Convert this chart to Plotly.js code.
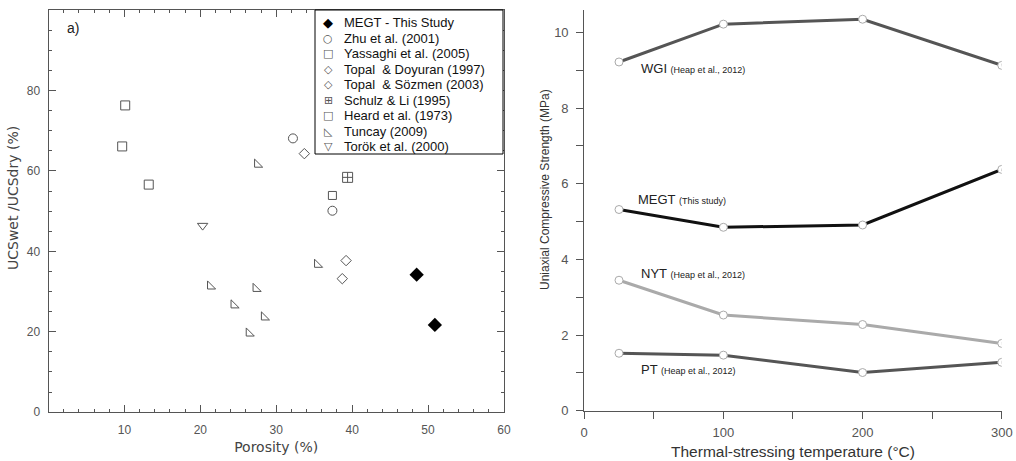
<!DOCTYPE html>
<html><head><meta charset="utf-8">
<script src="https://cdn.plot.ly/plotly-3.0.1.min.js"></script>
<style>html,body{margin:0;padding:0;background:#fff}#plot{width:1016px;height:461px}</style>
</head><body><div id="plot"></div>
<script>
// ---- Left panel data: porosity (%) vs UCSwet/UCSdry (%)
const megtX = [48.5, 50.9];
const megtY = [34.2, 21.7];
const zhuX = [32.2, 37.4];
const zhuY = [68.1, 50.1];
const yassaghiX = [9.7, 10.1, 13.2];
const yassaghiY = [66.1, 76.3, 56.6];
const topalDoyuranX = [33.7];
const topalDoyuranY = [64.3];
const topalSozmenX = [39.2, 38.7];
const topalSozmenY = [37.7, 33.2];
const schulzX = [39.4];
const schulzY = [58.4];
const heardX = [37.4];
const heardY = [53.9];
const tuncayX = [27.5, 21.3, 24.4, 27.3, 28.4, 26.4, 35.4];
const tuncayY = [61.6, 31.3, 26.6, 30.7, 23.6, 19.6, 36.7];
const torokX = [20.3];
const torokY = [46.4];

// legend labels and glyphs (left panel)
const legendLabels = ['MEGT - This Study', 'Zhu et al. (2001)', 'Yassaghi et al. (2005)', 'Topal  & Doyuran (1997)',
  'Topal  & Sözmen (2003)', 'Schulz & Li (1995)', 'Heard et al. (1973)', 'Tuncay (2009)', 'Torök et al. (2000)'];
const legendGlyphs = ['◆', '○', '□', '◇', '◇', '⊞', '□', '◺', '▽'];

// ---- Right panel data: temperature (°C) vs UCS (MPa)
const temps = [25, 100, 200, 300];
const wgi = [9.22, 10.22, 10.35, 9.13];
const megt = [5.32, 4.85, 4.91, 6.38];
const nyt = [3.45, 2.53, 2.28, 1.78];
const pt = [1.52, 1.47, 1.01, 1.28];

const F = '"Liberation Sans", Arial, sans-serif';
const FD = '"DejaVu Sans", sans-serif';
const gray = '#555';

function openPts(name, x, y, symbol, size) {
  return {type:'scatter', mode:'markers', name, x, y, xaxis:'x', yaxis:'y', showlegend:false,
    marker:{symbol, size, color:gray, line:{color:gray, width:1}}};
}

const traces = [
  {type:'scatter', mode:'markers', name:'MEGT - This Study', x:megtX, y:megtY, xaxis:'x', yaxis:'y', showlegend:false,
   marker:{symbol:'diamond', size:11, color:'#000'}},
  openPts('Zhu et al. (2001)', zhuX, zhuY, 'circle-open', 9),
  openPts('Yassaghi et al. (2005)', yassaghiX, yassaghiY, 'square-open', 9),
  openPts('Topal  & Doyuran (1997)', topalDoyuranX, topalDoyuranY, 'diamond-open', 8),
  openPts('Topal  & Sözmen (2003)', topalSozmenX, topalSozmenY, 'diamond-open', 8),
  openPts('Schulz & Li (1995)', schulzX, schulzY, 'square-cross-open', 10),
  openPts('Heard et al. (1973)', heardX, heardY, 'square-open', 8),
  openPts('Tuncay (2009)', tuncayX, tuncayY, 'triangle-sw-open', 9),
  openPts('Torök et al. (2000)', torokX, torokY, 'triangle-down-open', 9),
];

function line(name, y, color) {
  return {type:'scatter', mode:'lines+markers', name, x:temps, y, xaxis:'x2', yaxis:'y2', showlegend:false,
    line:{color, width:3}, marker:{symbol:'circle', size:8, color:'#fff', line:{color:'#aaa', width:1}}};
}
traces.push(line('WGI', wgi, '#555'));
traces.push(line('MEGT', megt, '#111'));
traces.push(line('NYT', nyt, '#aaa'));
traces.push(line('PT', pt, '#555'));

const tickfont = {family:F, size:12, color:'#555'};
const tickfont2 = {family:F, size:13, color:'#555'};

const W = 1016, H = 461;
const annotations = [
  {text:'a)', xref:'paper', yref:'paper', x:0.064, y:0.94, xanchor:'left', yanchor:'middle', showarrow:false,
   font:{family:F, size:14, color:'#222'}},
  {text:'UCSwet /UCSdry (%)', xref:'paper', yref:'paper', x:13/W, y:1-198/H, textangle:-90, showarrow:false,
   xanchor:'center', yanchor:'middle', font:{family:FD, size:14, color:'#444'}},
  {text:'Uniaxial Compressive Strength (MPa)', xref:'paper', yref:'paper', x:545/W, y:1-190/H, textangle:-90, showarrow:false,
   xanchor:'center', yanchor:'middle', font:{family:F, size:12, color:'#333'}},
  {text:'WGI <span style="font-size:9px">(Heap et al., 2012)</span>', xref:'x2', yref:'y2', x:39.5, y:9.05,
   xanchor:'left', yanchor:'middle', showarrow:false, font:{family:F, size:13, color:'#222'}},
  {text:'MEGT <span style="font-size:9px">(This study)</span>', xref:'x2', yref:'y2', x:37.3, y:5.59,
   xanchor:'left', yanchor:'middle', showarrow:false, font:{family:F, size:13, color:'#222'}},
  {text:'NYT <span style="font-size:9px">(Heap et al., 2012)</span>', xref:'x2', yref:'y2', x:39.5, y:3.64,
   xanchor:'left', yanchor:'middle', showarrow:false, font:{family:F, size:13, color:'#222'}},
  {text:'PT <span style="font-size:9px">(Heap et al., 2012)</span>', xref:'x2', yref:'y2', x:39.5, y:1.08,
   xanchor:'left', yanchor:'middle', showarrow:false, font:{family:F, size:13, color:'#222'}},
];
legendLabels.forEach((lab, i) => {
  const yp = 1 - (22.7 + i * 15.5) / H;
  annotations.push({text:legendGlyphs[i], xref:'paper', yref:'paper', x:328/W, y:yp, xanchor:'center', yanchor:'middle',
    showarrow:false, font:{family:FD, size:i === 0 ? 13 : 11, color:i === 0 ? '#000' : '#555'}});
  annotations.push({text:lab, xref:'paper', yref:'paper', x:342/W, y:yp, xanchor:'left', yanchor:'middle',
    showarrow:false, font:{family:F, size:13, color:'#111'}});
});

const layout = {
  width:W, height:H, margin:{l:0, r:0, t:0, b:0},
  paper_bgcolor:'#fff', plot_bgcolor:'#fff',
  font:{family:F, color:'#333'},
  showlegend:false,
  xaxis:{domain:[0.0478, 0.496], range:[0, 60], tickmode:'array', tickvals:[10,20,30,40,50,60],
    ticks:'inside', ticklen:7, tickcolor:'#555', showline:true, linecolor:'#555', linewidth:1, mirror:'ticks',
    showgrid:false, zeroline:false, tickfont, ticklabelstandoff:6,
    minor:{tickmode:'linear', tick0:0, dtick:2, ticks:'inside', ticklen:3, tickcolor:'#555'},
    title:{text:'Porosity (%)', font:{family:FD, size:14, color:'#444'}, standoff:6}},
  yaxis:{domain:[0.106, 0.978], range:[0, 100], tickmode:'array', tickvals:[0,20,40,60,80],
    ticks:'inside', ticklen:7, tickcolor:'#555', showline:true, linecolor:'#555', linewidth:1, mirror:'ticks',
    showgrid:false, zeroline:false, tickfont, ticklabelstandoff:5,
    minor:{tickmode:'linear', tick0:0, dtick:5, ticks:'inside', ticklen:3, tickcolor:'#555'}},
  xaxis2:{domain:[0.575, 0.986], range:[0, 300], tickvals:[0,100,200,300], anchor:'y2',
    ticks:'outside', ticklen:7, tickcolor:'#555', showline:true, linecolor:'#555', linewidth:1,
    showgrid:false, zeroline:false, tickfont:tickfont2, ticklabelstandoff:3,
    minor:{tickmode:'linear', tick0:0, dtick:50, ticks:'outside', ticklen:7, tickcolor:'#555'},
    title:{text:'Thermal-stressing temperature (°C)', font:{family:F, size:15.5, color:'#333'}, standoff:6}},
  yaxis2:{domain:[0.109, 0.978], range:[0, 10.59], tickvals:[0,2,4,6,8,10], anchor:'x2',
    ticks:'outside', ticklen:7, tickcolor:'#555', showline:true, linecolor:'#555', linewidth:1,
    showgrid:false, zeroline:false, tickfont:tickfont2, ticklabelstandoff:5,
    minor:{tickmode:'linear', tick0:0, dtick:1, ticks:'outside', ticklen:7, tickcolor:'#555'}},
  shapes:[
    {type:'rect', xref:'paper', yref:'paper', x0:315/W, x1:503/W, y0:1-154/H, y1:1-10/H,
     line:{color:'#000', width:1}, fillcolor:'#fff', layer:'above'}
  ],
  annotations
};

Plotly.newPlot('plot', traces, layout, {displayModeBar:false, staticPlot:true});
</script></body></html>
